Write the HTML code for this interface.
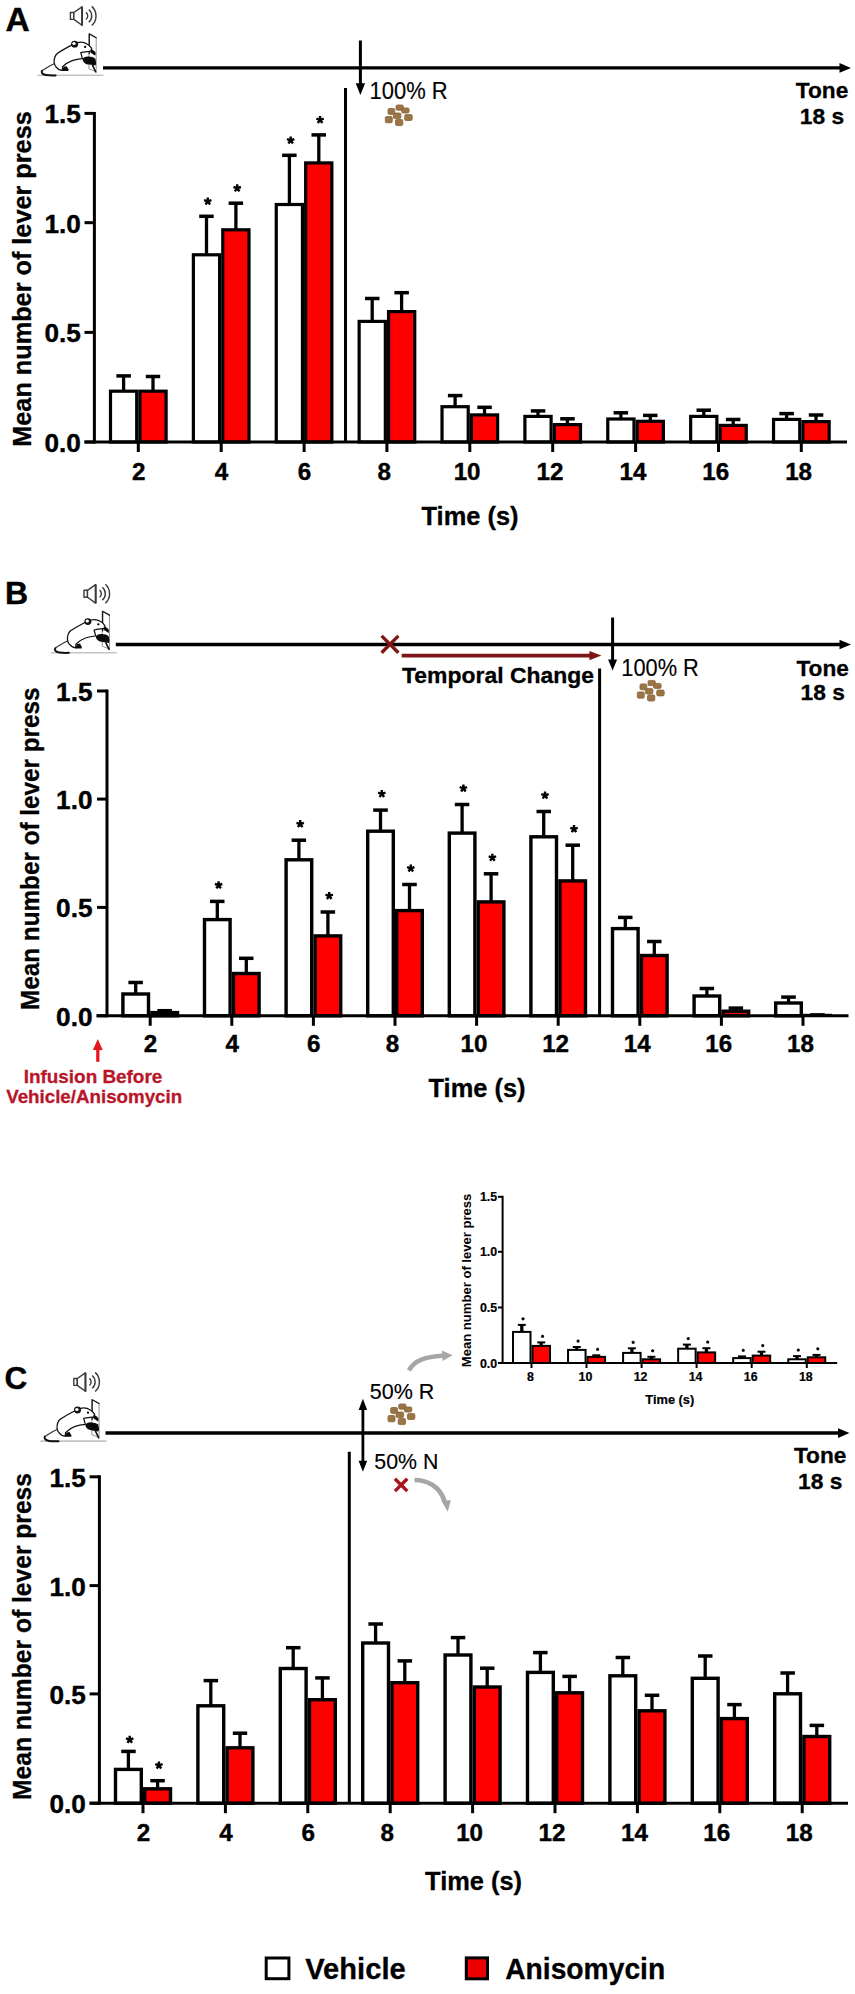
<!DOCTYPE html>
<html><head><meta charset="utf-8"><title>Figure</title>
<style>
html,body{margin:0;padding:0;background:#fff;}
body{width:855px;height:1994px;overflow:hidden;}
svg{display:block;font-family:"Liberation Sans", sans-serif;}
</style></head>
<body>
<svg width="855" height="1994" viewBox="0 0 855 1994">
<rect width="855" height="1994" fill="#fff"/>
<text x="5.4" y="31.2" font-size="33.5" font-weight="bold" text-anchor="start" fill="#000" stroke="#000" stroke-width="0.4" >A</text>
<g transform="translate(0,0)" fill="none" stroke="#3a3a3a" stroke-width="1.4" stroke-linejoin="round"><rect x="70.4" y="12.5" width="3.5" height="6.9" fill="#fff"/><polygon points="73.9,12.5 82.0,6.9 82.0,25.3 73.9,19.4" fill="#fff"/><line x1="82.1" y1="6.6" x2="82.1" y2="25.6" stroke-width="1.9"/><path d="M85.97,12.35 A4.5,4.5 0 0 1 85.97,19.45"/><path d="M88.78,9.48 A8.5,8.5 0 0 1 88.78,22.32"/><path d="M91.76,6.39 A12.8,12.8 0 0 1 91.76,25.41"/></g>
<g transform="translate(0,0)" stroke-linejoin="round" stroke-linecap="round"><line x1="38" y1="75.3" x2="103" y2="75.3" stroke="#c4c4c4" stroke-width="1.6"/><polygon points="89.3,33.9 96.2,37.7 96.2,71.6 89.3,69" fill="#fff" stroke="#8a8a8a" stroke-width="0.9"/><path d="M89.3,53.5 L89.3,33.9 L96.2,37.7" fill="none" stroke="#1a1a1a" stroke-width="1.3"/><path d="M54.2,62.8 C53.9,59 54.8,55.4 57.6,53.2 C62,50.2 67.4,47.4 72,45 L77.6,42.6 C80.6,41.8 84.4,42.2 87.4,44.2 C89.2,45.4 90.6,46.8 91.6,48.4 L91.6,51 C88,51.6 84,51.8 80.8,52.6 L82.4,58.6 C79,59 75.5,59.6 72.2,60.6 C68.2,62 65,64.4 62.6,66.8 L62.4,70.4 C60,70.2 57.6,69 56,66.8 C55,65.6 54.4,64.2 54.2,62.8 Z" fill="#fff" stroke="#111" stroke-width="1.25"/><ellipse cx="74.6" cy="44.2" rx="3.5" ry="3.4" fill="#111"/><ellipse cx="74.0" cy="43.6" rx="1.7" ry="1.5" fill="#fff"/><circle cx="85.1" cy="46.9" r="1.15" fill="#000"/><path d="M90.4,49.4 C92.4,49.2 94.6,50.6 95.6,52.6 L95.4,55.6 C93.6,54.8 91.6,53.4 90.4,52.2 Z" fill="#0a0a0a"/><path d="M82.6,58.8 C84,57.2 86,56.4 88.6,56.6 C91,56.6 93.6,57.4 95.4,58.8 L96.2,63.6 L95.4,65.6 C93.4,65.4 91.4,64.8 89.6,64.6 C87.6,64.4 85.4,64 84,62.4 C83,61.4 82.4,60.2 82.6,58.8 Z" fill="#0a0a0a"/><path d="M62.2,71 L63.6,66.8 L66.6,66.2 L68.6,69.6 L68.2,71 Z" fill="#0a0a0a"/><path d="M54.6,63.4 C50,65.6 45.4,68 42,70.8" stroke="#333" stroke-width="1.1" fill="none"/><path d="M42,70.8 C40.8,72.8 42.8,74.6 46.2,75.1 C49.2,75.5 52.6,75.6 55.6,75.4" stroke="#111" stroke-width="2" fill="none"/><line x1="92.6" y1="65.4" x2="95.8" y2="72" stroke="#111" stroke-width="1.6"/></g>
<line x1="103.0" y1="67.9" x2="840.5" y2="67.9" stroke="#000" stroke-width="3.4" />
<polygon points="851.0,67.9 839.5,63.1 839.5,72.7" fill="#000"/>
<line x1="360.4" y1="40.5" x2="360.4" y2="84.3" stroke="#000" stroke-width="3" />
<polygon points="360.4,95.0 355.7,83.3 365.1,83.3" fill="#000"/>
<line x1="345.5" y1="88.0" x2="345.5" y2="442.0" stroke="#000" stroke-width="3" />
<text x="369.6" y="99.1" font-size="23.2" font-weight="normal" text-anchor="start" fill="#000" textLength="78" lengthAdjust="spacingAndGlyphs" stroke="#000" stroke-width="0.15" >100% R</text>
<g transform="translate(0,0)" fill="#9c7545" stroke="#86633a" stroke-width="0.8"><rect x="396" y="105" width="7.3" height="5.2" rx="1.4"/><rect x="388" y="108.5" width="6.8" height="5.9" rx="1.4"/><rect x="401.6" y="108" width="7.5" height="5" rx="1.4"/><rect x="393.4" y="113" width="7.5" height="5.6" rx="1.4"/><rect x="385.3" y="116.5" width="7" height="6.3" rx="1.4"/><rect x="404.7" y="114.6" width="7.5" height="5.9" rx="1.4"/><rect x="395.5" y="119.5" width="7.3" height="6.1" rx="1.4"/></g>
<text x="822.0" y="97.8" font-size="22.8" font-weight="bold" text-anchor="middle" fill="#000" textLength="52.5" lengthAdjust="spacingAndGlyphs" stroke="#000" stroke-width="0.3" >Tone</text>
<text x="822.0" y="124.0" font-size="22.8" font-weight="bold" text-anchor="middle" fill="#000" textLength="44.3" lengthAdjust="spacingAndGlyphs" stroke="#000" stroke-width="0.3" >18 s</text>
<line x1="123.6" y1="375.9" x2="123.6" y2="390.6" stroke="#000" stroke-width="3.3" />
<line x1="116.4" y1="375.9" x2="130.9" y2="375.9" stroke="#000" stroke-width="3.5" />
<rect x="110.50" y="391.20" width="26.20" height="50.80" fill="#fff" stroke="#000" stroke-width="3.2"/>
<line x1="153.0" y1="376.5" x2="153.0" y2="390.6" stroke="#000" stroke-width="3.3" />
<line x1="145.8" y1="376.5" x2="160.2" y2="376.5" stroke="#000" stroke-width="3.5" />
<rect x="139.90" y="391.20" width="26.20" height="50.80" fill="#ff0000" stroke="#000" stroke-width="3.2"/>
<line x1="206.5" y1="216.3" x2="206.5" y2="254.2" stroke="#000" stroke-width="3.3" />
<line x1="199.2" y1="216.3" x2="213.7" y2="216.3" stroke="#000" stroke-width="3.5" />
<path d="M207.78,201.30 L207.78,197.40 M207.78,201.30 L211.49,200.09 M207.78,201.30 L210.07,204.46 M207.78,201.30 L205.49,204.46 M207.78,201.30 L204.07,200.09 " stroke="#000" stroke-width="2.4" stroke-linecap="butt" fill="none"/>
<rect x="193.38" y="254.80" width="26.20" height="187.20" fill="#fff" stroke="#000" stroke-width="3.2"/>
<line x1="235.9" y1="203.2" x2="235.9" y2="229.2" stroke="#000" stroke-width="3.3" />
<line x1="228.6" y1="203.2" x2="243.1" y2="203.2" stroke="#000" stroke-width="3.5" />
<path d="M237.18,188.20 L237.18,184.30 M237.18,188.20 L240.89,186.99 M237.18,188.20 L239.47,191.36 M237.18,188.20 L234.89,191.36 M237.18,188.20 L233.47,186.99 " stroke="#000" stroke-width="2.4" stroke-linecap="butt" fill="none"/>
<rect x="222.78" y="229.80" width="26.20" height="212.20" fill="#ff0000" stroke="#000" stroke-width="3.2"/>
<line x1="289.4" y1="155.3" x2="289.4" y2="203.9" stroke="#000" stroke-width="3.3" />
<line x1="282.1" y1="155.3" x2="296.6" y2="155.3" stroke="#000" stroke-width="3.5" />
<path d="M290.66,140.30 L290.66,136.40 M290.66,140.30 L294.37,139.09 M290.66,140.30 L292.95,143.46 M290.66,140.30 L288.37,143.46 M290.66,140.30 L286.95,139.09 " stroke="#000" stroke-width="2.4" stroke-linecap="butt" fill="none"/>
<rect x="276.26" y="204.50" width="26.20" height="237.50" fill="#fff" stroke="#000" stroke-width="3.2"/>
<line x1="318.8" y1="134.9" x2="318.8" y2="162.3" stroke="#000" stroke-width="3.3" />
<line x1="311.5" y1="134.9" x2="326.0" y2="134.9" stroke="#000" stroke-width="3.5" />
<path d="M320.06,119.90 L320.06,116.00 M320.06,119.90 L323.77,118.69 M320.06,119.90 L322.35,123.06 M320.06,119.90 L317.77,123.06 M320.06,119.90 L316.35,118.69 " stroke="#000" stroke-width="2.4" stroke-linecap="butt" fill="none"/>
<rect x="305.66" y="162.90" width="26.20" height="279.10" fill="#ff0000" stroke="#000" stroke-width="3.2"/>
<line x1="372.2" y1="298.5" x2="372.2" y2="320.8" stroke="#000" stroke-width="3.3" />
<line x1="365.0" y1="298.5" x2="379.5" y2="298.5" stroke="#000" stroke-width="3.5" />
<rect x="359.14" y="321.40" width="26.20" height="120.60" fill="#fff" stroke="#000" stroke-width="3.2"/>
<line x1="401.6" y1="292.7" x2="401.6" y2="311.0" stroke="#000" stroke-width="3.3" />
<line x1="394.4" y1="292.7" x2="408.9" y2="292.7" stroke="#000" stroke-width="3.5" />
<rect x="388.54" y="311.60" width="26.20" height="130.40" fill="#ff0000" stroke="#000" stroke-width="3.2"/>
<line x1="455.1" y1="395.6" x2="455.1" y2="406.1" stroke="#000" stroke-width="3.3" />
<line x1="447.9" y1="395.6" x2="462.4" y2="395.6" stroke="#000" stroke-width="3.5" />
<rect x="442.02" y="406.70" width="26.20" height="35.30" fill="#fff" stroke="#000" stroke-width="3.2"/>
<line x1="484.5" y1="407.3" x2="484.5" y2="414.3" stroke="#000" stroke-width="3.3" />
<line x1="477.3" y1="407.3" x2="491.8" y2="407.3" stroke="#000" stroke-width="3.5" />
<rect x="471.42" y="414.90" width="26.20" height="27.10" fill="#ff0000" stroke="#000" stroke-width="3.2"/>
<line x1="538.0" y1="410.9" x2="538.0" y2="415.8" stroke="#000" stroke-width="3.3" />
<line x1="530.8" y1="410.9" x2="545.3" y2="410.9" stroke="#000" stroke-width="3.5" />
<rect x="524.90" y="416.40" width="26.20" height="25.60" fill="#fff" stroke="#000" stroke-width="3.2"/>
<line x1="567.4" y1="418.8" x2="567.4" y2="424.0" stroke="#000" stroke-width="3.3" />
<line x1="560.2" y1="418.8" x2="574.7" y2="418.8" stroke="#000" stroke-width="3.5" />
<rect x="554.30" y="424.60" width="26.20" height="17.40" fill="#ff0000" stroke="#000" stroke-width="3.2"/>
<line x1="620.9" y1="412.8" x2="620.9" y2="418.4" stroke="#000" stroke-width="3.3" />
<line x1="613.6" y1="412.8" x2="628.1" y2="412.8" stroke="#000" stroke-width="3.5" />
<rect x="607.78" y="419.00" width="26.20" height="23.00" fill="#fff" stroke="#000" stroke-width="3.2"/>
<line x1="650.3" y1="415.4" x2="650.3" y2="420.7" stroke="#000" stroke-width="3.3" />
<line x1="643.0" y1="415.4" x2="657.5" y2="415.4" stroke="#000" stroke-width="3.5" />
<rect x="637.18" y="421.30" width="26.20" height="20.70" fill="#ff0000" stroke="#000" stroke-width="3.2"/>
<line x1="703.8" y1="410.2" x2="703.8" y2="415.8" stroke="#000" stroke-width="3.3" />
<line x1="696.5" y1="410.2" x2="711.0" y2="410.2" stroke="#000" stroke-width="3.5" />
<rect x="690.66" y="416.40" width="26.20" height="25.60" fill="#fff" stroke="#000" stroke-width="3.2"/>
<line x1="733.2" y1="419.5" x2="733.2" y2="424.8" stroke="#000" stroke-width="3.3" />
<line x1="725.9" y1="419.5" x2="740.4" y2="419.5" stroke="#000" stroke-width="3.5" />
<rect x="720.06" y="425.40" width="26.20" height="16.60" fill="#ff0000" stroke="#000" stroke-width="3.2"/>
<line x1="786.6" y1="413.6" x2="786.6" y2="418.8" stroke="#000" stroke-width="3.3" />
<line x1="779.4" y1="413.6" x2="793.9" y2="413.6" stroke="#000" stroke-width="3.5" />
<rect x="773.54" y="419.40" width="26.20" height="22.60" fill="#fff" stroke="#000" stroke-width="3.2"/>
<line x1="816.0" y1="415.0" x2="816.0" y2="421.0" stroke="#000" stroke-width="3.3" />
<line x1="808.8" y1="415.0" x2="823.3" y2="415.0" stroke="#000" stroke-width="3.5" />
<rect x="802.94" y="421.60" width="26.20" height="20.40" fill="#ff0000" stroke="#000" stroke-width="3.2"/>
<line x1="84.5" y1="442.0" x2="847.0" y2="442.0" stroke="#000" stroke-width="3" />
<line x1="138.3" y1="442.0" x2="138.3" y2="452.0" stroke="#000" stroke-width="3" />
<line x1="221.2" y1="442.0" x2="221.2" y2="452.0" stroke="#000" stroke-width="3" />
<line x1="304.1" y1="442.0" x2="304.1" y2="452.0" stroke="#000" stroke-width="3" />
<line x1="386.9" y1="442.0" x2="386.9" y2="452.0" stroke="#000" stroke-width="3" />
<line x1="469.8" y1="442.0" x2="469.8" y2="452.0" stroke="#000" stroke-width="3" />
<line x1="552.7" y1="442.0" x2="552.7" y2="452.0" stroke="#000" stroke-width="3" />
<line x1="635.6" y1="442.0" x2="635.6" y2="452.0" stroke="#000" stroke-width="3" />
<line x1="718.5" y1="442.0" x2="718.5" y2="452.0" stroke="#000" stroke-width="3" />
<line x1="801.3" y1="442.0" x2="801.3" y2="452.0" stroke="#000" stroke-width="3" />
<line x1="94.4" y1="111.9" x2="94.4" y2="443.5" stroke="#000" stroke-width="3" />
<line x1="84.5" y1="113.4" x2="94.4" y2="113.4" stroke="#000" stroke-width="3" />
<line x1="84.5" y1="222.7" x2="94.4" y2="222.7" stroke="#000" stroke-width="3" />
<line x1="84.5" y1="332.4" x2="94.4" y2="332.4" stroke="#000" stroke-width="3" />
<line x1="84.5" y1="442.0" x2="94.4" y2="442.0" stroke="#000" stroke-width="3" />
<text x="80.9" y="123.3" font-size="25" font-weight="bold" text-anchor="end" fill="#000" textLength="36.4" lengthAdjust="spacingAndGlyphs" stroke="#000" stroke-width="0.4" >1.5</text>
<text x="80.9" y="232.6" font-size="25" font-weight="bold" text-anchor="end" fill="#000" textLength="36.4" lengthAdjust="spacingAndGlyphs" stroke="#000" stroke-width="0.4" >1.0</text>
<text x="80.9" y="342.3" font-size="25" font-weight="bold" text-anchor="end" fill="#000" textLength="36.4" lengthAdjust="spacingAndGlyphs" stroke="#000" stroke-width="0.4" >0.5</text>
<text x="80.9" y="451.9" font-size="25" font-weight="bold" text-anchor="end" fill="#000" textLength="36.4" lengthAdjust="spacingAndGlyphs" stroke="#000" stroke-width="0.4" >0.0</text>
<text x="138.7" y="479.9" font-size="24.2" font-weight="bold" text-anchor="middle" fill="#000" stroke="#000" stroke-width="0.4" >2</text>
<text x="221.6" y="479.9" font-size="24.2" font-weight="bold" text-anchor="middle" fill="#000" stroke="#000" stroke-width="0.4" >4</text>
<text x="304.5" y="479.9" font-size="24.2" font-weight="bold" text-anchor="middle" fill="#000" stroke="#000" stroke-width="0.4" >6</text>
<text x="384.2" y="479.9" font-size="24.2" font-weight="bold" text-anchor="middle" fill="#000" stroke="#000" stroke-width="0.4" >8</text>
<text x="467.1" y="479.9" font-size="24.2" font-weight="bold" text-anchor="middle" fill="#000" stroke="#000" stroke-width="0.4" >10</text>
<text x="550.0" y="479.9" font-size="24.2" font-weight="bold" text-anchor="middle" fill="#000" stroke="#000" stroke-width="0.4" >12</text>
<text x="632.9" y="479.9" font-size="24.2" font-weight="bold" text-anchor="middle" fill="#000" stroke="#000" stroke-width="0.4" >14</text>
<text x="715.8" y="479.9" font-size="24.2" font-weight="bold" text-anchor="middle" fill="#000" stroke="#000" stroke-width="0.4" >16</text>
<text x="798.6" y="479.9" font-size="24.2" font-weight="bold" text-anchor="middle" fill="#000" stroke="#000" stroke-width="0.4" >18</text>
<text x="470.0" y="524.5" font-size="25" font-weight="bold" text-anchor="middle" fill="#000" textLength="97" lengthAdjust="spacingAndGlyphs" stroke="#000" stroke-width="0.3" >Time (s)</text>
<text transform="translate(31,279) rotate(-90)" font-size="26" font-weight="bold" text-anchor="middle" textLength="335.5" lengthAdjust="spacingAndGlyphs" stroke="#000" stroke-width="0.3">Mean number of lever press</text>
<text x="5.0" y="604.2" font-size="32" font-weight="bold" text-anchor="start" fill="#000" stroke="#000" stroke-width="0.4" >B</text>
<g transform="translate(13.6,577.8)" fill="none" stroke="#3a3a3a" stroke-width="1.4" stroke-linejoin="round"><rect x="70.4" y="12.5" width="3.5" height="6.9" fill="#fff"/><polygon points="73.9,12.5 82.0,6.9 82.0,25.3 73.9,19.4" fill="#fff"/><line x1="82.1" y1="6.6" x2="82.1" y2="25.6" stroke-width="1.9"/><path d="M85.97,12.35 A4.5,4.5 0 0 1 85.97,19.45"/><path d="M88.78,9.48 A8.5,8.5 0 0 1 88.78,22.32"/><path d="M91.76,6.39 A12.8,12.8 0 0 1 91.76,25.41"/></g>
<g transform="translate(13.3,577.4)" stroke-linejoin="round" stroke-linecap="round"><line x1="38" y1="75.3" x2="103" y2="75.3" stroke="#c4c4c4" stroke-width="1.6"/><polygon points="89.3,33.9 96.2,37.7 96.2,71.6 89.3,69" fill="#fff" stroke="#8a8a8a" stroke-width="0.9"/><path d="M89.3,53.5 L89.3,33.9 L96.2,37.7" fill="none" stroke="#1a1a1a" stroke-width="1.3"/><path d="M54.2,62.8 C53.9,59 54.8,55.4 57.6,53.2 C62,50.2 67.4,47.4 72,45 L77.6,42.6 C80.6,41.8 84.4,42.2 87.4,44.2 C89.2,45.4 90.6,46.8 91.6,48.4 L91.6,51 C88,51.6 84,51.8 80.8,52.6 L82.4,58.6 C79,59 75.5,59.6 72.2,60.6 C68.2,62 65,64.4 62.6,66.8 L62.4,70.4 C60,70.2 57.6,69 56,66.8 C55,65.6 54.4,64.2 54.2,62.8 Z" fill="#fff" stroke="#111" stroke-width="1.25"/><ellipse cx="74.6" cy="44.2" rx="3.5" ry="3.4" fill="#111"/><ellipse cx="74.0" cy="43.6" rx="1.7" ry="1.5" fill="#fff"/><circle cx="85.1" cy="46.9" r="1.15" fill="#000"/><path d="M90.4,49.4 C92.4,49.2 94.6,50.6 95.6,52.6 L95.4,55.6 C93.6,54.8 91.6,53.4 90.4,52.2 Z" fill="#0a0a0a"/><path d="M82.6,58.8 C84,57.2 86,56.4 88.6,56.6 C91,56.6 93.6,57.4 95.4,58.8 L96.2,63.6 L95.4,65.6 C93.4,65.4 91.4,64.8 89.6,64.6 C87.6,64.4 85.4,64 84,62.4 C83,61.4 82.4,60.2 82.6,58.8 Z" fill="#0a0a0a"/><path d="M62.2,71 L63.6,66.8 L66.6,66.2 L68.6,69.6 L68.2,71 Z" fill="#0a0a0a"/><path d="M54.6,63.4 C50,65.6 45.4,68 42,70.8" stroke="#333" stroke-width="1.1" fill="none"/><path d="M42,70.8 C40.8,72.8 42.8,74.6 46.2,75.1 C49.2,75.5 52.6,75.6 55.6,75.4" stroke="#111" stroke-width="2" fill="none"/><line x1="92.6" y1="65.4" x2="95.8" y2="72" stroke="#111" stroke-width="1.6"/></g>
<line x1="115.8" y1="644.5" x2="840.5" y2="644.5" stroke="#000" stroke-width="3.4" />
<polygon points="851.0,644.5 839.5,639.7 839.5,649.3" fill="#000"/>
<path d="M381.6,635.9 L398.4,652.6999999999999 M398.4,635.9 L381.6,652.6999999999999" stroke="#7e1616" stroke-width="3.4" stroke-linecap="butt"/>
<line x1="401.7" y1="655.6" x2="590.4" y2="655.6" stroke="#7e1616" stroke-width="3.6" />
<polygon points="601.4,655.6 589.4,651.0 589.4,660.2" fill="#7e1616"/>
<text x="402.0" y="682.5" font-size="22.2" font-weight="bold" text-anchor="start" fill="#000" textLength="192" lengthAdjust="spacingAndGlyphs" stroke="#000" stroke-width="0.3" >Temporal Change</text>
<line x1="612.6" y1="617.5" x2="612.6" y2="660.5" stroke="#000" stroke-width="3" />
<polygon points="612.6,670.5 608.1,659.5 617.1,659.5" fill="#000"/>
<line x1="599.6" y1="668.4" x2="599.6" y2="1015.5" stroke="#000" stroke-width="3" />
<text x="621.3" y="675.5" font-size="23.2" font-weight="normal" text-anchor="start" fill="#000" textLength="77.5" lengthAdjust="spacingAndGlyphs" stroke="#000" stroke-width="0.15" >100% R</text>
<g transform="translate(252,575.4)" fill="#9c7545" stroke="#86633a" stroke-width="0.8"><rect x="396" y="105" width="7.3" height="5.2" rx="1.4"/><rect x="388" y="108.5" width="6.8" height="5.9" rx="1.4"/><rect x="401.6" y="108" width="7.5" height="5" rx="1.4"/><rect x="393.4" y="113" width="7.5" height="5.6" rx="1.4"/><rect x="385.3" y="116.5" width="7" height="6.3" rx="1.4"/><rect x="404.7" y="114.6" width="7.5" height="5.9" rx="1.4"/><rect x="395.5" y="119.5" width="7.3" height="6.1" rx="1.4"/></g>
<text x="822.7" y="675.6" font-size="22.8" font-weight="bold" text-anchor="middle" fill="#000" textLength="52.5" lengthAdjust="spacingAndGlyphs" stroke="#000" stroke-width="0.3" >Tone</text>
<text x="822.7" y="700.4" font-size="22.8" font-weight="bold" text-anchor="middle" fill="#000" textLength="44.3" lengthAdjust="spacingAndGlyphs" stroke="#000" stroke-width="0.3" >18 s</text>
<line x1="135.7" y1="982.5" x2="135.7" y2="993.3" stroke="#000" stroke-width="3.3" />
<line x1="128.4" y1="982.5" x2="142.9" y2="982.5" stroke="#000" stroke-width="3.5" />
<rect x="122.90" y="994.00" width="25.60" height="21.80" fill="#fff" stroke="#000" stroke-width="3.4"/>
<line x1="164.7" y1="1010.7" x2="164.7" y2="1011.9" stroke="#000" stroke-width="3.3" />
<line x1="157.4" y1="1010.7" x2="171.9" y2="1010.7" stroke="#000" stroke-width="3.5" />
<rect x="151.90" y="1012.60" width="25.60" height="3.20" fill="#ff0000" stroke="#000" stroke-width="3.4"/>
<line x1="217.3" y1="901.4" x2="217.3" y2="918.9" stroke="#000" stroke-width="3.3" />
<line x1="210.0" y1="901.4" x2="224.5" y2="901.4" stroke="#000" stroke-width="3.5" />
<path d="M218.60,885.20 L218.60,881.30 M218.60,885.20 L222.31,883.99 M218.60,885.20 L220.89,888.36 M218.60,885.20 L216.31,888.36 M218.60,885.20 L214.89,883.99 " stroke="#000" stroke-width="2.4" stroke-linecap="butt" fill="none"/>
<rect x="204.50" y="919.60" width="25.60" height="96.20" fill="#fff" stroke="#000" stroke-width="3.4"/>
<line x1="246.3" y1="958.3" x2="246.3" y2="972.8" stroke="#000" stroke-width="3.3" />
<line x1="239.0" y1="958.3" x2="253.5" y2="958.3" stroke="#000" stroke-width="3.5" />
<rect x="233.50" y="973.50" width="25.60" height="42.30" fill="#ff0000" stroke="#000" stroke-width="3.4"/>
<line x1="298.9" y1="840.2" x2="298.9" y2="859.1" stroke="#000" stroke-width="3.3" />
<line x1="291.6" y1="840.2" x2="306.1" y2="840.2" stroke="#000" stroke-width="3.5" />
<path d="M300.20,824.00 L300.20,820.10 M300.20,824.00 L303.91,822.79 M300.20,824.00 L302.49,827.16 M300.20,824.00 L297.91,827.16 M300.20,824.00 L296.49,822.79 " stroke="#000" stroke-width="2.4" stroke-linecap="butt" fill="none"/>
<rect x="286.10" y="859.80" width="25.60" height="156.00" fill="#fff" stroke="#000" stroke-width="3.4"/>
<line x1="327.9" y1="912.0" x2="327.9" y2="935.2" stroke="#000" stroke-width="3.3" />
<line x1="320.6" y1="912.0" x2="335.1" y2="912.0" stroke="#000" stroke-width="3.5" />
<path d="M329.20,895.80 L329.20,891.90 M329.20,895.80 L332.91,894.59 M329.20,895.80 L331.49,898.96 M329.20,895.80 L326.91,898.96 M329.20,895.80 L325.49,894.59 " stroke="#000" stroke-width="2.4" stroke-linecap="butt" fill="none"/>
<rect x="315.10" y="935.90" width="25.60" height="79.90" fill="#ff0000" stroke="#000" stroke-width="3.4"/>
<line x1="380.5" y1="810.1" x2="380.5" y2="830.5" stroke="#000" stroke-width="3.3" />
<line x1="373.2" y1="810.1" x2="387.8" y2="810.1" stroke="#000" stroke-width="3.5" />
<path d="M381.80,793.90 L381.80,790.00 M381.80,793.90 L385.51,792.69 M381.80,793.90 L384.09,797.06 M381.80,793.90 L379.51,797.06 M381.80,793.90 L378.09,792.69 " stroke="#000" stroke-width="2.4" stroke-linecap="butt" fill="none"/>
<rect x="367.70" y="831.20" width="25.60" height="184.60" fill="#fff" stroke="#000" stroke-width="3.4"/>
<line x1="409.5" y1="884.5" x2="409.5" y2="909.9" stroke="#000" stroke-width="3.3" />
<line x1="402.2" y1="884.5" x2="416.8" y2="884.5" stroke="#000" stroke-width="3.5" />
<path d="M410.80,868.30 L410.80,864.40 M410.80,868.30 L414.51,867.09 M410.80,868.30 L413.09,871.46 M410.80,868.30 L408.51,871.46 M410.80,868.30 L407.09,867.09 " stroke="#000" stroke-width="2.4" stroke-linecap="butt" fill="none"/>
<rect x="396.70" y="910.60" width="25.60" height="105.20" fill="#ff0000" stroke="#000" stroke-width="3.4"/>
<line x1="462.1" y1="804.5" x2="462.1" y2="832.4" stroke="#000" stroke-width="3.3" />
<line x1="454.8" y1="804.5" x2="469.3" y2="804.5" stroke="#000" stroke-width="3.5" />
<path d="M463.40,788.30 L463.40,784.40 M463.40,788.30 L467.11,787.09 M463.40,788.30 L465.69,791.46 M463.40,788.30 L461.11,791.46 M463.40,788.30 L459.69,787.09 " stroke="#000" stroke-width="2.4" stroke-linecap="butt" fill="none"/>
<rect x="449.30" y="833.10" width="25.60" height="182.70" fill="#fff" stroke="#000" stroke-width="3.4"/>
<line x1="491.1" y1="873.8" x2="491.1" y2="901.2" stroke="#000" stroke-width="3.3" />
<line x1="483.8" y1="873.8" x2="498.3" y2="873.8" stroke="#000" stroke-width="3.5" />
<path d="M492.40,857.60 L492.40,853.70 M492.40,857.60 L496.11,856.39 M492.40,857.60 L494.69,860.76 M492.40,857.60 L490.11,860.76 M492.40,857.60 L488.69,856.39 " stroke="#000" stroke-width="2.4" stroke-linecap="butt" fill="none"/>
<rect x="478.30" y="901.90" width="25.60" height="113.90" fill="#ff0000" stroke="#000" stroke-width="3.4"/>
<line x1="543.7" y1="811.5" x2="543.7" y2="836.1" stroke="#000" stroke-width="3.3" />
<line x1="536.5" y1="811.5" x2="551.0" y2="811.5" stroke="#000" stroke-width="3.5" />
<path d="M545.00,795.30 L545.00,791.40 M545.00,795.30 L548.71,794.09 M545.00,795.30 L547.29,798.46 M545.00,795.30 L542.71,798.46 M545.00,795.30 L541.29,794.09 " stroke="#000" stroke-width="2.4" stroke-linecap="butt" fill="none"/>
<rect x="530.90" y="836.80" width="25.60" height="179.00" fill="#fff" stroke="#000" stroke-width="3.4"/>
<line x1="572.7" y1="845.2" x2="572.7" y2="880.2" stroke="#000" stroke-width="3.3" />
<line x1="565.5" y1="845.2" x2="580.0" y2="845.2" stroke="#000" stroke-width="3.5" />
<path d="M574.00,829.00 L574.00,825.10 M574.00,829.00 L577.71,827.79 M574.00,829.00 L576.29,832.16 M574.00,829.00 L571.71,832.16 M574.00,829.00 L570.29,827.79 " stroke="#000" stroke-width="2.4" stroke-linecap="butt" fill="none"/>
<rect x="559.90" y="880.90" width="25.60" height="134.90" fill="#ff0000" stroke="#000" stroke-width="3.4"/>
<line x1="625.3" y1="917.4" x2="625.3" y2="927.9" stroke="#000" stroke-width="3.3" />
<line x1="618.0" y1="917.4" x2="632.5" y2="917.4" stroke="#000" stroke-width="3.5" />
<rect x="612.50" y="928.60" width="25.60" height="87.20" fill="#fff" stroke="#000" stroke-width="3.4"/>
<line x1="654.3" y1="941.5" x2="654.3" y2="954.8" stroke="#000" stroke-width="3.3" />
<line x1="647.0" y1="941.5" x2="661.5" y2="941.5" stroke="#000" stroke-width="3.5" />
<rect x="641.50" y="955.50" width="25.60" height="60.30" fill="#ff0000" stroke="#000" stroke-width="3.4"/>
<line x1="706.9" y1="988.5" x2="706.9" y2="995.3" stroke="#000" stroke-width="3.3" />
<line x1="699.6" y1="988.5" x2="714.1" y2="988.5" stroke="#000" stroke-width="3.5" />
<rect x="694.10" y="996.00" width="25.60" height="19.80" fill="#fff" stroke="#000" stroke-width="3.4"/>
<line x1="735.9" y1="1008.1" x2="735.9" y2="1010.5" stroke="#000" stroke-width="3.3" />
<line x1="728.6" y1="1008.1" x2="743.1" y2="1008.1" stroke="#000" stroke-width="3.5" />
<rect x="723.10" y="1011.20" width="25.60" height="4.60" fill="#ff0000" stroke="#000" stroke-width="3.4"/>
<line x1="788.5" y1="997.1" x2="788.5" y2="1002.3" stroke="#000" stroke-width="3.3" />
<line x1="781.2" y1="997.1" x2="795.8" y2="997.1" stroke="#000" stroke-width="3.5" />
<rect x="775.70" y="1003.00" width="25.60" height="12.80" fill="#fff" stroke="#000" stroke-width="3.4"/>
<line x1="817.5" y1="1014.9" x2="817.5" y2="1014.8" stroke="#000" stroke-width="3.3" />
<line x1="810.2" y1="1014.9" x2="824.8" y2="1014.9" stroke="#000" stroke-width="3.5" />
<rect x="803.00" y="1013.80" width="29.00" height="2.00" fill="#000"/>
<line x1="96.4" y1="1015.8" x2="848.5" y2="1015.8" stroke="#000" stroke-width="3" />
<line x1="150.2" y1="1015.8" x2="150.2" y2="1025.8" stroke="#000" stroke-width="3" />
<line x1="231.8" y1="1015.8" x2="231.8" y2="1025.8" stroke="#000" stroke-width="3" />
<line x1="313.4" y1="1015.8" x2="313.4" y2="1025.8" stroke="#000" stroke-width="3" />
<line x1="395.0" y1="1015.8" x2="395.0" y2="1025.8" stroke="#000" stroke-width="3" />
<line x1="476.6" y1="1015.8" x2="476.6" y2="1025.8" stroke="#000" stroke-width="3" />
<line x1="558.2" y1="1015.8" x2="558.2" y2="1025.8" stroke="#000" stroke-width="3" />
<line x1="639.8" y1="1015.8" x2="639.8" y2="1025.8" stroke="#000" stroke-width="3" />
<line x1="721.4" y1="1015.8" x2="721.4" y2="1025.8" stroke="#000" stroke-width="3" />
<line x1="803.0" y1="1015.8" x2="803.0" y2="1025.8" stroke="#000" stroke-width="3" />
<line x1="107.0" y1="689.5" x2="107.0" y2="1017.3" stroke="#000" stroke-width="3" />
<line x1="97.0" y1="691.0" x2="107.0" y2="691.0" stroke="#000" stroke-width="3" />
<line x1="97.0" y1="799.1" x2="107.0" y2="799.1" stroke="#000" stroke-width="3" />
<line x1="97.0" y1="907.4" x2="107.0" y2="907.4" stroke="#000" stroke-width="3" />
<line x1="97.0" y1="1015.8" x2="107.0" y2="1015.8" stroke="#000" stroke-width="3" />
<text x="92.5" y="700.9" font-size="25" font-weight="bold" text-anchor="end" fill="#000" textLength="36.4" lengthAdjust="spacingAndGlyphs" stroke="#000" stroke-width="0.4" >1.5</text>
<text x="92.5" y="809.0" font-size="25" font-weight="bold" text-anchor="end" fill="#000" textLength="36.4" lengthAdjust="spacingAndGlyphs" stroke="#000" stroke-width="0.4" >1.0</text>
<text x="92.5" y="917.3" font-size="25" font-weight="bold" text-anchor="end" fill="#000" textLength="36.4" lengthAdjust="spacingAndGlyphs" stroke="#000" stroke-width="0.4" >0.5</text>
<text x="92.5" y="1025.7" font-size="25" font-weight="bold" text-anchor="end" fill="#000" textLength="36.4" lengthAdjust="spacingAndGlyphs" stroke="#000" stroke-width="0.4" >0.0</text>
<text x="150.6" y="1052.2" font-size="24.2" font-weight="bold" text-anchor="middle" fill="#000" stroke="#000" stroke-width="0.4" >2</text>
<text x="232.2" y="1052.2" font-size="24.2" font-weight="bold" text-anchor="middle" fill="#000" stroke="#000" stroke-width="0.4" >4</text>
<text x="313.8" y="1052.2" font-size="24.2" font-weight="bold" text-anchor="middle" fill="#000" stroke="#000" stroke-width="0.4" >6</text>
<text x="392.4" y="1052.2" font-size="24.2" font-weight="bold" text-anchor="middle" fill="#000" stroke="#000" stroke-width="0.4" >8</text>
<text x="474.0" y="1052.2" font-size="24.2" font-weight="bold" text-anchor="middle" fill="#000" stroke="#000" stroke-width="0.4" >10</text>
<text x="555.6" y="1052.2" font-size="24.2" font-weight="bold" text-anchor="middle" fill="#000" stroke="#000" stroke-width="0.4" >12</text>
<text x="637.2" y="1052.2" font-size="24.2" font-weight="bold" text-anchor="middle" fill="#000" stroke="#000" stroke-width="0.4" >14</text>
<text x="718.8" y="1052.2" font-size="24.2" font-weight="bold" text-anchor="middle" fill="#000" stroke="#000" stroke-width="0.4" >16</text>
<text x="800.4" y="1052.2" font-size="24.2" font-weight="bold" text-anchor="middle" fill="#000" stroke="#000" stroke-width="0.4" >18</text>
<text x="477.0" y="1097.0" font-size="25" font-weight="bold" text-anchor="middle" fill="#000" textLength="97" lengthAdjust="spacingAndGlyphs" stroke="#000" stroke-width="0.3" >Time (s)</text>
<text transform="translate(38.9,848.7) rotate(-90)" font-size="25.5" font-weight="bold" text-anchor="middle" textLength="322.5" lengthAdjust="spacingAndGlyphs" stroke="#000" stroke-width="0.3">Mean number of lever press</text>
<line x1="97.8" y1="1061.8" x2="97.8" y2="1048.9" stroke="#e8141c" stroke-width="3.2" />
<polygon points="97.8,1038.9 92.9,1049.9 102.7,1049.9" fill="#e8141c"/>
<text x="93.0" y="1083.3" font-size="19" font-weight="bold" text-anchor="middle" fill="#b8162a" textLength="138.5" lengthAdjust="spacingAndGlyphs" stroke="#b8162a" stroke-width="0.3" >Infusion Before</text>
<text x="94.2" y="1103.0" font-size="19" font-weight="bold" text-anchor="middle" fill="#b8162a" textLength="176" lengthAdjust="spacingAndGlyphs" stroke="#b8162a" stroke-width="0.3" >Vehicle/Anisomycin</text>
<line x1="521.8" y1="1324.9" x2="521.8" y2="1331.9" stroke="#000" stroke-width="3.3" />
<line x1="517.8" y1="1324.9" x2="525.8" y2="1324.9" stroke="#000" stroke-width="2" />
<path d="M523.05,1318.90 L523.05,1317.30 M523.05,1318.90 L524.57,1318.41 M523.05,1318.90 L523.99,1320.19 M523.05,1318.90 L522.11,1320.19 M523.05,1318.90 L521.53,1318.41 " stroke="#000" stroke-width="1.3" stroke-linecap="butt" fill="none"/>
<rect x="513.00" y="1331.90" width="17.50" height="31.10" fill="#fff" stroke="#000" stroke-width="2"/>
<line x1="541.2" y1="1342.4" x2="541.2" y2="1345.9" stroke="#000" stroke-width="3.3" />
<line x1="537.2" y1="1342.4" x2="545.2" y2="1342.4" stroke="#000" stroke-width="2" />
<path d="M542.55,1336.40 L542.55,1334.80 M542.55,1336.40 L544.07,1335.91 M542.55,1336.40 L543.49,1337.69 M542.55,1336.40 L541.61,1337.69 M542.55,1336.40 L541.03,1335.91 " stroke="#000" stroke-width="1.3" stroke-linecap="butt" fill="none"/>
<rect x="532.50" y="1345.90" width="17.50" height="17.10" fill="#ff0000" stroke="#000" stroke-width="2"/>
<line x1="576.8" y1="1347.0" x2="576.8" y2="1349.9" stroke="#000" stroke-width="3.3" />
<line x1="572.8" y1="1347.0" x2="580.8" y2="1347.0" stroke="#000" stroke-width="2" />
<path d="M578.10,1341.00 L578.10,1339.40 M578.10,1341.00 L579.62,1340.51 M578.10,1341.00 L579.04,1342.29 M578.10,1341.00 L577.16,1342.29 M578.10,1341.00 L576.58,1340.51 " stroke="#000" stroke-width="1.3" stroke-linecap="butt" fill="none"/>
<rect x="568.05" y="1349.90" width="17.50" height="13.10" fill="#fff" stroke="#000" stroke-width="2"/>
<line x1="596.3" y1="1355.3" x2="596.3" y2="1356.9" stroke="#000" stroke-width="3.3" />
<line x1="592.3" y1="1355.3" x2="600.3" y2="1355.3" stroke="#000" stroke-width="2" />
<path d="M597.60,1349.30 L597.60,1347.70 M597.60,1349.30 L599.12,1348.81 M597.60,1349.30 L598.54,1350.59 M597.60,1349.30 L596.66,1350.59 M597.60,1349.30 L596.08,1348.81 " stroke="#000" stroke-width="1.3" stroke-linecap="butt" fill="none"/>
<rect x="587.55" y="1356.90" width="17.50" height="6.10" fill="#ff0000" stroke="#000" stroke-width="2"/>
<line x1="631.9" y1="1348.3" x2="631.9" y2="1352.9" stroke="#000" stroke-width="3.3" />
<line x1="627.9" y1="1348.3" x2="635.9" y2="1348.3" stroke="#000" stroke-width="2" />
<path d="M633.15,1342.30 L633.15,1340.70 M633.15,1342.30 L634.67,1341.81 M633.15,1342.30 L634.09,1343.59 M633.15,1342.30 L632.21,1343.59 M633.15,1342.30 L631.63,1341.81 " stroke="#000" stroke-width="1.3" stroke-linecap="butt" fill="none"/>
<rect x="623.10" y="1352.90" width="17.50" height="10.10" fill="#fff" stroke="#000" stroke-width="2"/>
<line x1="651.4" y1="1356.8" x2="651.4" y2="1359.3" stroke="#000" stroke-width="3.3" />
<line x1="647.4" y1="1356.8" x2="655.4" y2="1356.8" stroke="#000" stroke-width="2" />
<path d="M652.65,1350.80 L652.65,1349.20 M652.65,1350.80 L654.17,1350.31 M652.65,1350.80 L653.59,1352.09 M652.65,1350.80 L651.71,1352.09 M652.65,1350.80 L651.13,1350.31 " stroke="#000" stroke-width="1.3" stroke-linecap="butt" fill="none"/>
<rect x="642.60" y="1359.30" width="17.50" height="3.70" fill="#ff0000" stroke="#000" stroke-width="2"/>
<line x1="686.9" y1="1344.6" x2="686.9" y2="1348.7" stroke="#000" stroke-width="3.3" />
<line x1="682.9" y1="1344.6" x2="690.9" y2="1344.6" stroke="#000" stroke-width="2" />
<path d="M688.20,1338.60 L688.20,1337.00 M688.20,1338.60 L689.72,1338.11 M688.20,1338.60 L689.14,1339.89 M688.20,1338.60 L687.26,1339.89 M688.20,1338.60 L686.68,1338.11 " stroke="#000" stroke-width="1.3" stroke-linecap="butt" fill="none"/>
<rect x="678.15" y="1348.70" width="17.50" height="14.30" fill="#fff" stroke="#000" stroke-width="2"/>
<line x1="706.4" y1="1348.2" x2="706.4" y2="1352.4" stroke="#000" stroke-width="3.3" />
<line x1="702.4" y1="1348.2" x2="710.4" y2="1348.2" stroke="#000" stroke-width="2" />
<path d="M707.70,1342.20 L707.70,1340.60 M707.70,1342.20 L709.22,1341.71 M707.70,1342.20 L708.64,1343.49 M707.70,1342.20 L706.76,1343.49 M707.70,1342.20 L706.18,1341.71 " stroke="#000" stroke-width="1.3" stroke-linecap="butt" fill="none"/>
<rect x="697.65" y="1352.40" width="17.50" height="10.60" fill="#ff0000" stroke="#000" stroke-width="2"/>
<line x1="742.0" y1="1356.4" x2="742.0" y2="1358.1" stroke="#000" stroke-width="3.3" />
<line x1="738.0" y1="1356.4" x2="746.0" y2="1356.4" stroke="#000" stroke-width="2" />
<path d="M743.25,1350.40 L743.25,1348.80 M743.25,1350.40 L744.77,1349.91 M743.25,1350.40 L744.19,1351.69 M743.25,1350.40 L742.31,1351.69 M743.25,1350.40 L741.73,1349.91 " stroke="#000" stroke-width="1.3" stroke-linecap="butt" fill="none"/>
<rect x="733.20" y="1358.10" width="17.50" height="4.90" fill="#fff" stroke="#000" stroke-width="2"/>
<line x1="761.5" y1="1351.7" x2="761.5" y2="1355.6" stroke="#000" stroke-width="3.3" />
<line x1="757.5" y1="1351.7" x2="765.5" y2="1351.7" stroke="#000" stroke-width="2" />
<path d="M762.75,1345.70 L762.75,1344.10 M762.75,1345.70 L764.27,1345.21 M762.75,1345.70 L763.69,1346.99 M762.75,1345.70 L761.81,1346.99 M762.75,1345.70 L761.23,1345.21 " stroke="#000" stroke-width="1.3" stroke-linecap="butt" fill="none"/>
<rect x="752.70" y="1355.60" width="17.50" height="7.40" fill="#ff0000" stroke="#000" stroke-width="2"/>
<line x1="797.0" y1="1356.1" x2="797.0" y2="1359.3" stroke="#000" stroke-width="3.3" />
<line x1="793.0" y1="1356.1" x2="801.0" y2="1356.1" stroke="#000" stroke-width="2" />
<path d="M798.30,1350.10 L798.30,1348.50 M798.30,1350.10 L799.82,1349.61 M798.30,1350.10 L799.24,1351.39 M798.30,1350.10 L797.36,1351.39 M798.30,1350.10 L796.78,1349.61 " stroke="#000" stroke-width="1.3" stroke-linecap="butt" fill="none"/>
<rect x="788.25" y="1359.30" width="17.50" height="3.70" fill="#fff" stroke="#000" stroke-width="2"/>
<line x1="816.5" y1="1354.9" x2="816.5" y2="1357.3" stroke="#000" stroke-width="3.3" />
<line x1="812.5" y1="1354.9" x2="820.5" y2="1354.9" stroke="#000" stroke-width="2" />
<path d="M817.80,1348.90 L817.80,1347.30 M817.80,1348.90 L819.32,1348.41 M817.80,1348.90 L818.74,1350.19 M817.80,1348.90 L816.86,1350.19 M817.80,1348.90 L816.28,1348.41 " stroke="#000" stroke-width="1.3" stroke-linecap="butt" fill="none"/>
<rect x="807.75" y="1357.30" width="17.50" height="5.70" fill="#ff0000" stroke="#000" stroke-width="2"/>
<line x1="498.0" y1="1363.0" x2="837.2" y2="1363.0" stroke="#000" stroke-width="2" />
<line x1="531.5" y1="1363.0" x2="531.5" y2="1368.0" stroke="#000" stroke-width="2" />
<line x1="586.5" y1="1363.0" x2="586.5" y2="1368.0" stroke="#000" stroke-width="2" />
<line x1="641.6" y1="1363.0" x2="641.6" y2="1368.0" stroke="#000" stroke-width="2" />
<line x1="696.6" y1="1363.0" x2="696.6" y2="1368.0" stroke="#000" stroke-width="2" />
<line x1="751.7" y1="1363.0" x2="751.7" y2="1368.0" stroke="#000" stroke-width="2" />
<line x1="806.8" y1="1363.0" x2="806.8" y2="1368.0" stroke="#000" stroke-width="2" />
<line x1="502.6" y1="1195.8" x2="502.6" y2="1364.0" stroke="#000" stroke-width="2" />
<line x1="498.0" y1="1196.8" x2="502.6" y2="1196.8" stroke="#000" stroke-width="2" />
<line x1="498.0" y1="1251.8" x2="502.6" y2="1251.8" stroke="#000" stroke-width="2" />
<line x1="498.0" y1="1307.5" x2="502.6" y2="1307.5" stroke="#000" stroke-width="2" />
<line x1="498.0" y1="1363.0" x2="502.6" y2="1363.0" stroke="#000" stroke-width="2" />
<text x="497.2" y="1201.3" font-size="12.4" font-weight="bold" text-anchor="end" fill="#000" stroke="#000" stroke-width="0.2" >1.5</text>
<text x="497.2" y="1256.3" font-size="12.4" font-weight="bold" text-anchor="end" fill="#000" stroke="#000" stroke-width="0.2" >1.0</text>
<text x="497.2" y="1312.0" font-size="12.4" font-weight="bold" text-anchor="end" fill="#000" stroke="#000" stroke-width="0.2" >0.5</text>
<text x="497.2" y="1367.5" font-size="12.4" font-weight="bold" text-anchor="end" fill="#000" stroke="#000" stroke-width="0.2" >0.0</text>
<text x="530.5" y="1381.2" font-size="12.4" font-weight="bold" text-anchor="middle" fill="#000" stroke="#000" stroke-width="0.2" >8</text>
<text x="585.5" y="1381.2" font-size="12.4" font-weight="bold" text-anchor="middle" fill="#000" stroke="#000" stroke-width="0.2" >10</text>
<text x="640.6" y="1381.2" font-size="12.4" font-weight="bold" text-anchor="middle" fill="#000" stroke="#000" stroke-width="0.2" >12</text>
<text x="695.6" y="1381.2" font-size="12.4" font-weight="bold" text-anchor="middle" fill="#000" stroke="#000" stroke-width="0.2" >14</text>
<text x="750.7" y="1381.2" font-size="12.4" font-weight="bold" text-anchor="middle" fill="#000" stroke="#000" stroke-width="0.2" >16</text>
<text x="805.8" y="1381.2" font-size="12.4" font-weight="bold" text-anchor="middle" fill="#000" stroke="#000" stroke-width="0.2" >18</text>
<text x="669.8" y="1404.2" font-size="12.8" font-weight="bold" text-anchor="middle" fill="#000" textLength="49" lengthAdjust="spacingAndGlyphs" stroke="#000" stroke-width="0.2" >Time (s)</text>
<text transform="translate(470.7,1280.4) rotate(-90)" font-size="13" font-weight="bold" text-anchor="middle" textLength="173.5" lengthAdjust="spacingAndGlyphs">Mean number of lever press</text>
<text x="4.6" y="1388.6" font-size="31.5" font-weight="bold" text-anchor="start" fill="#000" stroke="#000" stroke-width="0.4" >C</text>
<g transform="translate(3.4,1366)" fill="none" stroke="#3a3a3a" stroke-width="1.4" stroke-linejoin="round"><rect x="70.4" y="12.5" width="3.5" height="6.9" fill="#fff"/><polygon points="73.9,12.5 82.0,6.9 82.0,25.3 73.9,19.4" fill="#fff"/><line x1="82.1" y1="6.6" x2="82.1" y2="25.6" stroke-width="1.9"/><path d="M85.97,12.35 A4.5,4.5 0 0 1 85.97,19.45"/><path d="M88.78,9.48 A8.5,8.5 0 0 1 88.78,22.32"/><path d="M91.76,6.39 A12.8,12.8 0 0 1 91.76,25.41"/></g>
<g transform="translate(2.9,1365.8)" stroke-linejoin="round" stroke-linecap="round"><line x1="38" y1="75.3" x2="103" y2="75.3" stroke="#c4c4c4" stroke-width="1.6"/><polygon points="89.3,33.9 96.2,37.7 96.2,71.6 89.3,69" fill="#fff" stroke="#8a8a8a" stroke-width="0.9"/><path d="M89.3,53.5 L89.3,33.9 L96.2,37.7" fill="none" stroke="#1a1a1a" stroke-width="1.3"/><path d="M54.2,62.8 C53.9,59 54.8,55.4 57.6,53.2 C62,50.2 67.4,47.4 72,45 L77.6,42.6 C80.6,41.8 84.4,42.2 87.4,44.2 C89.2,45.4 90.6,46.8 91.6,48.4 L91.6,51 C88,51.6 84,51.8 80.8,52.6 L82.4,58.6 C79,59 75.5,59.6 72.2,60.6 C68.2,62 65,64.4 62.6,66.8 L62.4,70.4 C60,70.2 57.6,69 56,66.8 C55,65.6 54.4,64.2 54.2,62.8 Z" fill="#fff" stroke="#111" stroke-width="1.25"/><ellipse cx="74.6" cy="44.2" rx="3.5" ry="3.4" fill="#111"/><ellipse cx="74.0" cy="43.6" rx="1.7" ry="1.5" fill="#fff"/><circle cx="85.1" cy="46.9" r="1.15" fill="#000"/><path d="M90.4,49.4 C92.4,49.2 94.6,50.6 95.6,52.6 L95.4,55.6 C93.6,54.8 91.6,53.4 90.4,52.2 Z" fill="#0a0a0a"/><path d="M82.6,58.8 C84,57.2 86,56.4 88.6,56.6 C91,56.6 93.6,57.4 95.4,58.8 L96.2,63.6 L95.4,65.6 C93.4,65.4 91.4,64.8 89.6,64.6 C87.6,64.4 85.4,64 84,62.4 C83,61.4 82.4,60.2 82.6,58.8 Z" fill="#0a0a0a"/><path d="M62.2,71 L63.6,66.8 L66.6,66.2 L68.6,69.6 L68.2,71 Z" fill="#0a0a0a"/><path d="M54.6,63.4 C50,65.6 45.4,68 42,70.8" stroke="#333" stroke-width="1.1" fill="none"/><path d="M42,70.8 C40.8,72.8 42.8,74.6 46.2,75.1 C49.2,75.5 52.6,75.6 55.6,75.4" stroke="#111" stroke-width="2" fill="none"/><line x1="92.6" y1="65.4" x2="95.8" y2="72" stroke="#111" stroke-width="1.6"/></g>
<line x1="105.5" y1="1433.1" x2="839.0" y2="1433.1" stroke="#000" stroke-width="3.5" />
<polygon points="849.5,1433.1 838.0,1428.3 838.0,1437.9" fill="#000"/>
<line x1="362.9" y1="1409.0" x2="362.9" y2="1462.0" stroke="#000" stroke-width="2.8" />
<polygon points="362.9,1398.7 358.6,1410 367.2,1410" fill="#000"/>
<polygon points="362.9,1471.8 358.6,1460.8 367.2,1460.8" fill="#000"/>
<line x1="349.3" y1="1451.7" x2="349.3" y2="1803.2" stroke="#000" stroke-width="3" />
<text x="369.8" y="1399.0" font-size="22.5" font-weight="normal" text-anchor="start" fill="#000" textLength="64.5" lengthAdjust="spacingAndGlyphs" stroke="#000" stroke-width="0.15" >50% R</text>
<g transform="translate(2.7,1299)" fill="#9c7545" stroke="#86633a" stroke-width="0.8"><rect x="396" y="105" width="7.3" height="5.2" rx="1.4"/><rect x="388" y="108.5" width="6.8" height="5.9" rx="1.4"/><rect x="401.6" y="108" width="7.5" height="5" rx="1.4"/><rect x="393.4" y="113" width="7.5" height="5.6" rx="1.4"/><rect x="385.3" y="116.5" width="7" height="6.3" rx="1.4"/><rect x="404.7" y="114.6" width="7.5" height="5.9" rx="1.4"/><rect x="395.5" y="119.5" width="7.3" height="6.1" rx="1.4"/></g>
<text x="374.3" y="1468.5" font-size="22.5" font-weight="normal" text-anchor="start" fill="#000" textLength="64" lengthAdjust="spacingAndGlyphs" stroke="#000" stroke-width="0.15" >50% N</text>
<path d="M394.90000000000003,1478.7 L407.3,1491.1000000000001 M407.3,1478.7 L394.90000000000003,1491.1000000000001" stroke="#a8141a" stroke-width="3.4" stroke-linecap="butt"/>
<path d="M409,1370.5 C414,1360 426,1356.8 443,1355.8" stroke="#a6a6a6" stroke-width="4.6" fill="none"/>
<polygon points="452.5,1355.2 442,1350.4 442.6,1361" fill="#a6a6a6"/>
<path d="M414.5,1480 C428,1480 440,1487 444.6,1501" stroke="#a6a6a6" stroke-width="4.6" fill="none"/>
<polygon points="447.8,1511.8 441.2,1500.6 450.8,1500.2" fill="#a6a6a6"/>
<text x="820.2" y="1462.7" font-size="22.8" font-weight="bold" text-anchor="middle" fill="#000" textLength="52.5" lengthAdjust="spacingAndGlyphs" stroke="#000" stroke-width="0.3" >Tone</text>
<text x="820.2" y="1488.9" font-size="22.8" font-weight="bold" text-anchor="middle" fill="#000" textLength="44.3" lengthAdjust="spacingAndGlyphs" stroke="#000" stroke-width="0.3" >18 s</text>
<line x1="128.4" y1="1751.4" x2="128.4" y2="1768.7" stroke="#000" stroke-width="3.3" />
<line x1="121.2" y1="1751.4" x2="135.7" y2="1751.4" stroke="#000" stroke-width="3.5" />
<path d="M129.70,1739.60 L129.70,1735.70 M129.70,1739.60 L133.41,1738.39 M129.70,1739.60 L131.99,1742.76 M129.70,1739.60 L127.41,1742.76 M129.70,1739.60 L125.99,1738.39 " stroke="#000" stroke-width="2.4" stroke-linecap="butt" fill="none"/>
<rect x="115.50" y="1769.40" width="25.80" height="33.80" fill="#fff" stroke="#000" stroke-width="3.4"/>
<line x1="157.6" y1="1780.7" x2="157.6" y2="1788.1" stroke="#000" stroke-width="3.3" />
<line x1="150.3" y1="1780.7" x2="164.8" y2="1780.7" stroke="#000" stroke-width="3.5" />
<path d="M158.90,1765.40 L158.90,1761.50 M158.90,1765.40 L162.61,1764.19 M158.90,1765.40 L161.19,1768.56 M158.90,1765.40 L156.61,1768.56 M158.90,1765.40 L155.19,1764.19 " stroke="#000" stroke-width="2.4" stroke-linecap="butt" fill="none"/>
<rect x="144.70" y="1788.80" width="25.80" height="14.40" fill="#ff0000" stroke="#000" stroke-width="3.4"/>
<line x1="210.8" y1="1680.6" x2="210.8" y2="1705.1" stroke="#000" stroke-width="3.3" />
<line x1="203.6" y1="1680.6" x2="218.1" y2="1680.6" stroke="#000" stroke-width="3.5" />
<rect x="197.90" y="1705.80" width="25.80" height="97.40" fill="#fff" stroke="#000" stroke-width="3.4"/>
<line x1="240.0" y1="1733.2" x2="240.0" y2="1747.1" stroke="#000" stroke-width="3.3" />
<line x1="232.8" y1="1733.2" x2="247.2" y2="1733.2" stroke="#000" stroke-width="3.5" />
<rect x="227.10" y="1747.80" width="25.80" height="55.40" fill="#ff0000" stroke="#000" stroke-width="3.4"/>
<line x1="293.2" y1="1647.7" x2="293.2" y2="1667.8" stroke="#000" stroke-width="3.3" />
<line x1="286.0" y1="1647.7" x2="300.5" y2="1647.7" stroke="#000" stroke-width="3.5" />
<rect x="280.30" y="1668.50" width="25.80" height="134.70" fill="#fff" stroke="#000" stroke-width="3.4"/>
<line x1="322.4" y1="1677.9" x2="322.4" y2="1699.0" stroke="#000" stroke-width="3.3" />
<line x1="315.2" y1="1677.9" x2="329.7" y2="1677.9" stroke="#000" stroke-width="3.5" />
<rect x="309.50" y="1699.70" width="25.80" height="103.50" fill="#ff0000" stroke="#000" stroke-width="3.4"/>
<line x1="375.6" y1="1624.0" x2="375.6" y2="1642.3" stroke="#000" stroke-width="3.3" />
<line x1="368.4" y1="1624.0" x2="382.9" y2="1624.0" stroke="#000" stroke-width="3.5" />
<rect x="362.70" y="1643.00" width="25.80" height="160.20" fill="#fff" stroke="#000" stroke-width="3.4"/>
<line x1="404.8" y1="1660.9" x2="404.8" y2="1682.0" stroke="#000" stroke-width="3.3" />
<line x1="397.6" y1="1660.9" x2="412.1" y2="1660.9" stroke="#000" stroke-width="3.5" />
<rect x="391.90" y="1682.70" width="25.80" height="120.50" fill="#ff0000" stroke="#000" stroke-width="3.4"/>
<line x1="458.0" y1="1637.6" x2="458.0" y2="1654.3" stroke="#000" stroke-width="3.3" />
<line x1="450.8" y1="1637.6" x2="465.3" y2="1637.6" stroke="#000" stroke-width="3.5" />
<rect x="445.10" y="1655.00" width="25.80" height="148.20" fill="#fff" stroke="#000" stroke-width="3.4"/>
<line x1="487.2" y1="1668.2" x2="487.2" y2="1686.3" stroke="#000" stroke-width="3.3" />
<line x1="480.0" y1="1668.2" x2="494.5" y2="1668.2" stroke="#000" stroke-width="3.5" />
<rect x="474.30" y="1687.00" width="25.80" height="116.20" fill="#ff0000" stroke="#000" stroke-width="3.4"/>
<line x1="540.4" y1="1652.6" x2="540.4" y2="1671.7" stroke="#000" stroke-width="3.3" />
<line x1="533.1" y1="1652.6" x2="547.6" y2="1652.6" stroke="#000" stroke-width="3.5" />
<rect x="527.50" y="1672.40" width="25.80" height="130.80" fill="#fff" stroke="#000" stroke-width="3.4"/>
<line x1="569.6" y1="1676.4" x2="569.6" y2="1692.1" stroke="#000" stroke-width="3.3" />
<line x1="562.4" y1="1676.4" x2="576.9" y2="1676.4" stroke="#000" stroke-width="3.5" />
<rect x="556.70" y="1692.80" width="25.80" height="110.40" fill="#ff0000" stroke="#000" stroke-width="3.4"/>
<line x1="622.8" y1="1657.5" x2="622.8" y2="1675.1" stroke="#000" stroke-width="3.3" />
<line x1="615.6" y1="1657.5" x2="630.1" y2="1657.5" stroke="#000" stroke-width="3.5" />
<rect x="609.90" y="1675.80" width="25.80" height="127.40" fill="#fff" stroke="#000" stroke-width="3.4"/>
<line x1="652.0" y1="1695.3" x2="652.0" y2="1710.1" stroke="#000" stroke-width="3.3" />
<line x1="644.8" y1="1695.3" x2="659.3" y2="1695.3" stroke="#000" stroke-width="3.5" />
<rect x="639.10" y="1710.80" width="25.80" height="92.40" fill="#ff0000" stroke="#000" stroke-width="3.4"/>
<line x1="705.2" y1="1656.0" x2="705.2" y2="1677.6" stroke="#000" stroke-width="3.3" />
<line x1="698.0" y1="1656.0" x2="712.5" y2="1656.0" stroke="#000" stroke-width="3.5" />
<rect x="692.30" y="1678.30" width="25.80" height="124.90" fill="#fff" stroke="#000" stroke-width="3.4"/>
<line x1="734.4" y1="1704.6" x2="734.4" y2="1717.9" stroke="#000" stroke-width="3.3" />
<line x1="727.2" y1="1704.6" x2="741.7" y2="1704.6" stroke="#000" stroke-width="3.5" />
<rect x="721.50" y="1718.60" width="25.80" height="84.60" fill="#ff0000" stroke="#000" stroke-width="3.4"/>
<line x1="787.6" y1="1673.0" x2="787.6" y2="1693.1" stroke="#000" stroke-width="3.3" />
<line x1="780.4" y1="1673.0" x2="794.9" y2="1673.0" stroke="#000" stroke-width="3.5" />
<rect x="774.70" y="1693.80" width="25.80" height="109.40" fill="#fff" stroke="#000" stroke-width="3.4"/>
<line x1="816.8" y1="1725.4" x2="816.8" y2="1735.8" stroke="#000" stroke-width="3.3" />
<line x1="809.6" y1="1725.4" x2="824.1" y2="1725.4" stroke="#000" stroke-width="3.5" />
<rect x="803.90" y="1736.50" width="25.80" height="66.70" fill="#ff0000" stroke="#000" stroke-width="3.4"/>
<line x1="89.6" y1="1803.2" x2="848.0" y2="1803.2" stroke="#000" stroke-width="3" />
<line x1="143.0" y1="1803.2" x2="143.0" y2="1813.2" stroke="#000" stroke-width="3" />
<line x1="225.4" y1="1803.2" x2="225.4" y2="1813.2" stroke="#000" stroke-width="3" />
<line x1="307.8" y1="1803.2" x2="307.8" y2="1813.2" stroke="#000" stroke-width="3" />
<line x1="390.2" y1="1803.2" x2="390.2" y2="1813.2" stroke="#000" stroke-width="3" />
<line x1="472.6" y1="1803.2" x2="472.6" y2="1813.2" stroke="#000" stroke-width="3" />
<line x1="555.0" y1="1803.2" x2="555.0" y2="1813.2" stroke="#000" stroke-width="3" />
<line x1="637.4" y1="1803.2" x2="637.4" y2="1813.2" stroke="#000" stroke-width="3" />
<line x1="719.8" y1="1803.2" x2="719.8" y2="1813.2" stroke="#000" stroke-width="3" />
<line x1="802.2" y1="1803.2" x2="802.2" y2="1813.2" stroke="#000" stroke-width="3" />
<line x1="99.4" y1="1475.3" x2="99.4" y2="1804.7" stroke="#000" stroke-width="3" />
<line x1="89.6" y1="1476.8" x2="99.4" y2="1476.8" stroke="#000" stroke-width="3" />
<line x1="89.6" y1="1585.6" x2="99.4" y2="1585.6" stroke="#000" stroke-width="3" />
<line x1="89.6" y1="1693.9" x2="99.4" y2="1693.9" stroke="#000" stroke-width="3" />
<line x1="89.6" y1="1803.2" x2="99.4" y2="1803.2" stroke="#000" stroke-width="3" />
<text x="85.9" y="1486.7" font-size="25" font-weight="bold" text-anchor="end" fill="#000" textLength="36.4" lengthAdjust="spacingAndGlyphs" stroke="#000" stroke-width="0.4" >1.5</text>
<text x="85.9" y="1595.5" font-size="25" font-weight="bold" text-anchor="end" fill="#000" textLength="36.4" lengthAdjust="spacingAndGlyphs" stroke="#000" stroke-width="0.4" >1.0</text>
<text x="85.9" y="1703.8" font-size="25" font-weight="bold" text-anchor="end" fill="#000" textLength="36.4" lengthAdjust="spacingAndGlyphs" stroke="#000" stroke-width="0.4" >0.5</text>
<text x="85.9" y="1813.1" font-size="25" font-weight="bold" text-anchor="end" fill="#000" textLength="36.4" lengthAdjust="spacingAndGlyphs" stroke="#000" stroke-width="0.4" >0.0</text>
<text x="143.5" y="1840.5" font-size="24.2" font-weight="bold" text-anchor="middle" fill="#000" stroke="#000" stroke-width="0.4" >2</text>
<text x="225.9" y="1840.5" font-size="24.2" font-weight="bold" text-anchor="middle" fill="#000" stroke="#000" stroke-width="0.4" >4</text>
<text x="308.3" y="1840.5" font-size="24.2" font-weight="bold" text-anchor="middle" fill="#000" stroke="#000" stroke-width="0.4" >6</text>
<text x="387.2" y="1840.5" font-size="24.2" font-weight="bold" text-anchor="middle" fill="#000" stroke="#000" stroke-width="0.4" >8</text>
<text x="469.6" y="1840.5" font-size="24.2" font-weight="bold" text-anchor="middle" fill="#000" stroke="#000" stroke-width="0.4" >10</text>
<text x="552.0" y="1840.5" font-size="24.2" font-weight="bold" text-anchor="middle" fill="#000" stroke="#000" stroke-width="0.4" >12</text>
<text x="634.4" y="1840.5" font-size="24.2" font-weight="bold" text-anchor="middle" fill="#000" stroke="#000" stroke-width="0.4" >14</text>
<text x="716.8" y="1840.5" font-size="24.2" font-weight="bold" text-anchor="middle" fill="#000" stroke="#000" stroke-width="0.4" >16</text>
<text x="799.2" y="1840.5" font-size="24.2" font-weight="bold" text-anchor="middle" fill="#000" stroke="#000" stroke-width="0.4" >18</text>
<text x="473.6" y="1889.9" font-size="25" font-weight="bold" text-anchor="middle" fill="#000" textLength="97" lengthAdjust="spacingAndGlyphs" stroke="#000" stroke-width="0.3" >Time (s)</text>
<text transform="translate(30.6,1636.5) rotate(-90)" font-size="25.8" font-weight="bold" text-anchor="middle" textLength="327" lengthAdjust="spacingAndGlyphs" stroke="#000" stroke-width="0.3">Mean number of lever press</text>
<rect x="266.2" y="1958" width="22.7" height="20.7" fill="#fff" stroke="#000" stroke-width="3"/>
<text x="305.3" y="1978.9" font-size="29" font-weight="bold" text-anchor="start" fill="#000" textLength="100.4" lengthAdjust="spacingAndGlyphs" stroke="#000" stroke-width="0.3" >Vehicle</text>
<rect x="466.3" y="1957.9" width="21.2" height="20.9" fill="#ee0000" stroke="#000" stroke-width="3"/>
<text x="505.2" y="1979.2" font-size="29" font-weight="bold" text-anchor="start" fill="#000" textLength="160" lengthAdjust="spacingAndGlyphs" stroke="#000" stroke-width="0.3" >Anisomycin</text>
</svg>
</body></html>
